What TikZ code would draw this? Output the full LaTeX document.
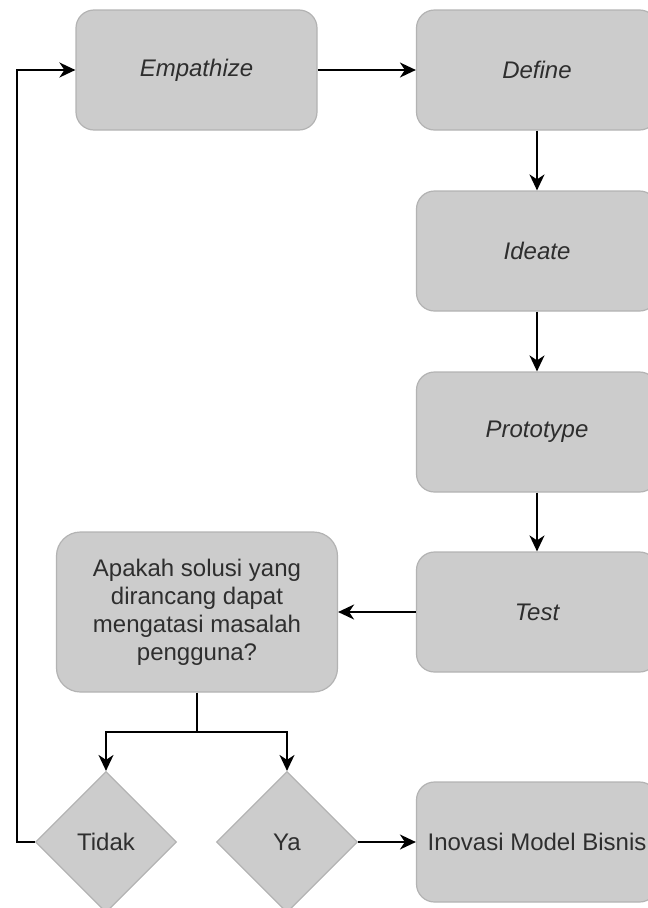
\documentclass[tikz,border=0pt]{standalone}
\usepackage{fontspec}
\setmainfont{Liberation Sans}
\usetikzlibrary{shapes.geometric,arrows.meta}
\definecolor{boxfill}{HTML}{CCCCCC}
\definecolor{boxline}{HTML}{B3B3B3}
\definecolor{txt}{HTML}{2E2E2E}
\begin{document}
\begin{tikzpicture}[x=1pt,y=-1pt,
  every node/.style={font=\fontsize{24}{28}\selectfont, text=txt, inner sep=0pt, align=center},
  stage/.style={rectangle, rounded corners=18pt, fill=boxfill, draw=boxline, line width=1.2pt,
                minimum width=241pt, minimum height=120pt},
  askbox/.style={stage, rounded corners=24pt, minimum width=281pt, minimum height=160pt},
  choice/.style={diamond, aspect=1, fill=boxfill, draw=boxline, line width=1.2pt,
                 minimum width=141pt, minimum height=141pt},
  arr/.style={draw=black, line width=2pt, -{Stealth[length=16pt,width=15pt,inset=5pt]}}]
\useasboundingbox (0,0) rectangle (648,908);

% design thinking stages
\node[stage] (emp) at (196.5,70) {\itshape Empathize};
\node[stage] (def) at (537,70) {\itshape Define};
\node[stage] (ide) at (537,251) {\itshape Ideate};
\node[stage] (pro) at (537,432) {\itshape Prototype};
\node[stage] (tst) at (537,612) {\itshape Test};

% evaluation question and outcomes
\node[askbox] (ask) at (197,612) {Apakah solusi yang\\dirancang dapat\\mengatasi masalah\\pengguna?};
\node[choice] (no) at (106,842) {Tidak};
\node[choice] (yes) at (287,842) {Ya};
\node[stage] (ino) at (537,842) {Inovasi Model Bisnis};

\coordinate (split) at (197,732);
\coordinate (loop) at (17,842);

% connectors
\draw[arr] (emp.east) -- (def.west);
\draw[arr] (def.south) -- (ide.north);
\draw[arr] (ide.south) -- (pro.north);
\draw[arr] (pro.south) -- (tst.north);
\draw[arr] (tst.west) -- (ask.east);
\draw[arr] (ask.south) -- (split) -| (no.north);
\draw[arr] (split) -| (yes.north);
\draw[arr] (no.west) -- (loop) |- (emp.west);
\draw[arr] (yes.east) -- (ino.west);
\end{tikzpicture}
\end{document}
